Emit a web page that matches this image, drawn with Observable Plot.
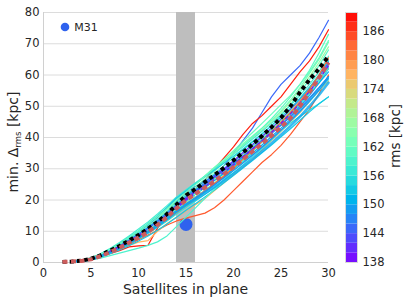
<!DOCTYPE html>
<html><head><meta charset="utf-8">
<script src="https://cdn.jsdelivr.net/npm/d3@7"></script>
<script src="https://cdn.jsdelivr.net/npm/@observablehq/plot@0.6"></script>
<style>
body{margin:0;background:#fff;}
#wrap{position:relative;width:407px;height:303px;font-family:"DejaVu Sans",sans-serif;}
#wrap svg{position:absolute;top:0;}
</style></head><body><div id="wrap"></div>
<script>
// ---- data ----
const satellites = [3,4,5,6,7,8,9,10,11,12,13,14,15,16,17,18,19,20,21,22,23,24,25,26,27,28,29,30];
const satellitesMean = [2,3,4,5,6,7,8,9,10,11,12,13,14,15,16,17,18,19,20,21,22,23,24,25,26,27,28,29,30];
const lineRms = [145,188,184,177,172,167,163,160,157,155,152,149,147,142,139,158,156,151,161,165,153,146,154,150,159,183,162,148];
const lineValues = [
 [0.3,0.6,1.2,2.2,3.5,5,6.8,8.6,10.5,12.8,15.3,18.5,21.5,23.5,25.5,28,31,35,39,43,48,53,57,60,63,67,72,77.5],
 [0.2,0.5,1,1.8,2.8,3.8,5,5.3,5.5,11,14.5,18,21,23.5,26.5,30,33.5,37,41,44.5,47,50,53,57,61,64.5,69,74.5],
 [0.2,0.5,1,1.8,3,4.3,5.8,7.3,8.8,10.3,12,13.3,14.2,15,15.8,17.5,20,23,26,29,32,34.5,37.5,41,45,49,54,60],
 [0.2,0.5,1,2,3.2,4.5,5.5,6.5,7,10,12.5,14.5,16.5,18.5,20.5,23,25.5,28,30.5,33,36,39,42,45,48,51.5,55,58],
 [0.2,0.6,1.2,2.2,3.6,5,6.6,8.3,10,12,14.3,16.8,19,21,23.2,25.5,28,30.5,33,35.8,38.8,42,45.5,49,52.5,56,59.5,63],
 [0.3,0.7,1.4,2.6,4.2,6,8,10,12.2,14.5,17,19.8,22.5,25,27.5,30,32.5,35,37.5,40,42.5,45,48,51.5,55.5,59.5,64,69],
 [0.3,0.7,1.5,2.7,4.3,6.1,8.1,10.2,12.5,15,17.5,20,22.5,25,27.8,30.5,33,35.5,38,40.5,43,45.5,48.5,52,56,60.5,65,70.5],
 [0.3,0.6,1.3,2.4,3.9,5.6,7.4,9.3,11.3,13.6,16,18.8,21.2,23.5,26,28.5,31,33.5,36,38.5,41,43.8,47,50.5,54.5,58.5,63,68],
 [0.3,0.6,1.2,2.2,3.6,5.1,6.8,8.5,10.4,12.5,14.8,17.2,19.5,21.8,24,26.4,28.8,31.2,33.8,36.5,39.2,42,45,48.2,51.5,55,58.5,62.5],
 [0.2,0.5,1.1,2,3.2,4.6,6.2,7.8,9.6,11.5,13.5,15.8,18,20.2,22.5,24.8,27.2,29.6,32,34.5,37,39.6,42.2,44.6,46.8,48.8,50.8,53],
 [0.2,0.6,1.2,2.3,3.7,5.3,7,8.8,10.7,12.8,15.2,17.8,20.2,22.4,24.6,27,29.5,32,34.6,37.3,40,42.8,45.8,49,52.5,56,60,64.5],
 [0.3,0.6,1.2,2.3,3.8,5.5,7.3,9.2,11.3,13.6,16.2,19.5,21.8,23.3,25,27,29.2,31.5,34,36.5,39,41.5,44,46.8,50,53.5,57.5,62],
 [0.3,0.6,1.3,2.5,4,5.8,7.7,9.8,12,14.5,17.5,20.8,22.8,24.3,26,28,30,32.2,34.5,37,39.5,42,44.8,47.8,51,54.8,59,63.5],
 [0.2,0.5,1.1,2.1,3.4,4.8,6.5,8.3,10.3,12.5,15,17.7,20.3,22.6,25,27.5,30,32.6,35.2,37.8,40.4,43,45.8,48.8,52,55.5,59.5,64],
 [0.3,0.6,1.2,2.3,3.7,5.3,7,8.8,10.7,12.8,15.2,17.8,20.5,22.8,25,27.3,29.6,32,34.5,37,39.7,42.5,45.5,48.7,52,55.5,59,63],
 [0.3,0.7,1.5,2.8,4.5,6.4,8.5,10.7,13,15.5,18.2,21,23.3,25.5,27.7,30,32.3,34.6,37,39.5,42,44.6,47.3,50.3,53.5,57,61,66],
 [0.2,0.5,1,1.9,3.1,4.5,6,7.6,9.3,11.2,13.3,15.5,17.6,19.7,21.8,24,26.3,28.7,31.2,33.8,36.5,39.3,42.2,45.2,48.3,51.5,55,58.5],
 [0.2,0.5,1.1,2.1,3.4,5,6.7,8.5,10.5,12.7,15,17.5,19.8,21.9,24,26.2,28.5,30.9,33.4,36,38.7,41.5,44.4,47.4,50.6,54,57.5,61],
 [0.3,0.6,1.3,2.5,4,5.7,7.6,9.6,11.7,14,16.5,19.2,21.8,24.2,26.7,29.3,32,34.7,37.4,40.2,43,46,49.3,53,57,61.5,67,73],
 [0.2,0.5,1.1,2.1,3.5,5.1,6.8,8.6,10.5,12.6,14.9,17.4,19.8,22,24.3,26.7,29.2,31.8,34.4,37,39.7,42.5,45.4,48.5,51.8,55.3,59,63],
 [0.2,0.4,0.9,1.7,2.8,4,5.4,6.9,8.5,10.3,12.3,14.5,16.7,18.8,21,23.2,25.5,27.8,30.2,32.6,35.1,37.6,40.2,42.8,45.5,48.2,50.8,53],
 [0.3,0.6,1.2,2.3,3.7,5.3,7.1,9,11,13.2,15.7,18.5,21,23,25,27.2,29.4,31.7,34,36.4,38.8,41.3,43.9,46.6,49.5,52.7,56,59.5],
 [0.3,0.7,1.4,2.6,4.2,6,8,10.1,12.4,14.9,17.6,20.5,23,25.2,27.4,29.6,31.8,34,36.3,38.7,41.2,43.8,46.5,49.4,52.5,56,60,64.5],
 [0.2,0.5,1.1,2.1,3.4,4.9,6.5,8.2,10,12,14.2,16.6,18.8,20.8,23,25.2,27.5,29.9,32.4,35,37.6,40.3,43,45.9,49,52.3,55.8,59.5],
 [0.2,0.4,0.8,1.4,2.2,3,3.8,4.6,5.5,6.6,8.5,11.5,14.5,17.5,20.5,23.5,26.5,29.5,32.5,35.5,38.5,41.5,44.5,47.5,50.5,54,58,62],
 [0.2,0.5,1.1,2.1,3.4,4.9,6.5,8.1,9.8,11.7,13.8,16,18.2,20.5,22.8,25.2,27.7,30.3,33,35.8,38.7,41.7,44.8,48,51.5,55.5,60,65.5],
 [0.3,0.7,1.4,2.6,4.2,6,8,10.1,12.3,14.7,17.2,19.9,22.5,25,27.6,30.3,33,35.8,38.7,41.6,44.5,47.5,50.5,53.5,57,61,65.5,71],
 [0.2,0.5,1,1.9,3.1,4.5,6.1,7.8,9.6,11.6,13.8,16.2,18.5,20.6,22.7,24.9,27.1,29.4,31.8,34.3,36.9,39.6,42.4,45.3,48.4,51.7,55.2,59]
];
// a dashed violet line and a broad light-blue line drawn on top of the bundle
const violetRms = 139;
const violetValues = [0.3,0.6,1.2,2.2,3.6,5.1,6.8,8.6,10.5,12.6,14.9,17.4,19.9,22.1,24.3,26.6,28.9,31.3,33.8,36.3,38.9,41.6,44.5,47.6,51,54.7,58.6,63];
const broadRms = 150;
const broadValues = [0.2,0.5,1,2,3.3,4.7,6.3,8,9.8,11.8,14,16.4,18.4,20.2,22.1,24.1,26.2,28.4,30.7,33.1,35.6,38.2,40.9,43.7,46.7,50,53.6,57.5];
const meanValues = [0.2,0.3,0.6,1.2,2.3,3.8,5.3,7,8.8,10.8,13,15.5,18.5,21.5,23.5,25.8,28,30.3,32.7,35.2,37.8,40.5,43.3,46.3,50,54.5,58.5,62,66];
const medianValues = [0.2,0.3,0.5,1.0,2.0,3.3,4.7,6.3,8,9.8,12,14.5,17.3,20,22,24,26,28.2,30.5,33,35.5,38,40.6,43.3,46.2,50,54.5,59,64];
const m31 = [{sats: 15, delta: 12.2}];
const planeBand = [{from: 14, to: 16}];
const xTicks = [0,5,10,15,20,25,30];
const yTicks = [0,10,20,30,40,50,60,70,80];
const rmsTicks = [138,144,150,156,162,168,174,180,186];
const rmsSteps = [138,140,142,144,146,148,150,152,154,156,158,160,162,164,166,168,170,172,174,176,178,180,182,184,186,188];

// ---- tables ----
const rows = [];
lineValues.forEach((vals, i) => vals.forEach((v, j) => rows.push({id: i, x: satellites[j], y: v, rms: lineRms[i]})));
const violetRows = violetValues.map((v, j) => ({x: satellites[j], y: v, rms: violetRms}));
const broadRows = broadValues.map((v, j) => ({x: satellites[j], y: v, rms: broadRms}));
const meanRows = meanValues.map((v, j) => ({x: satellitesMean[j], y: v}));
const medianRows = medianValues.map((v, j) => ({x: satellitesMean[j], y: v}));

// matplotlib "rainbow" colormap
const rainbow = t => {
  t = Math.max(0, Math.min(1, t));
  const r = Math.min(1, Math.abs(2 * t - 0.5)), g = Math.sin(Math.PI * t), b = Math.cos(Math.PI * t / 2);
  return d3.rgb(r * 255, g * 255, b * 255).toString();
};
const colorScale = {type: "linear", domain: [138, 190], interpolate: () => rainbow};

const font = '"DejaVu Sans", sans-serif';
const main = Plot.plot({
  width: 407, height: 303,
  marginLeft: 43, marginRight: 79, marginTop: 12, marginBottom: 41,
  style: {fontFamily: font, fontSize: "11.5px", color: "#262626", background: "transparent"},
  x: {domain: [0, 30], label: null},
  y: {domain: [0, 80], label: null},
  color: colorScale,
  marks: [
    Plot.gridY(yTicks, {stroke: "#dcdcdc", strokeOpacity: 1, strokeWidth: 1}),
    Plot.rect(planeBand, {x1: "from", x2: "to", y1: 0, y2: 80, fill: "#bebebe"}),
    Plot.ruleX([0], {stroke: "#d0d0d0"}),
    Plot.ruleY([0], {stroke: "#d0d0d0"}),
    Plot.dot(m31, {x: "sats", y: "delta", r: 6.5, fill: "#2f62ee", stroke: null}),
    Plot.line(rows, {x: "x", y: "y", z: "id", stroke: "rms", strokeWidth: 1.2}),
    Plot.line(broadRows, {x: "x", y: "y", stroke: "rms", strokeWidth: 2.6, strokeOpacity: 0.8}),
    Plot.line(violetRows, {x: "x", y: "y", stroke: "rms", strokeWidth: 1.3, strokeDasharray: "4,2.5", strokeLinecap: "butt"}),
    Plot.line(meanRows, {x: "x", y: "y", stroke: "black", strokeWidth: 4, strokeDasharray: "4,3.2", strokeLinecap: "butt"}),
    Plot.line(medianRows, {x: "x", y: "y", stroke: "#cd5c5c", strokeWidth: 4, strokeDasharray: "5,3.5", strokeLinecap: "butt"}),
    Plot.axisX(xTicks, {tickSize: 0, tickPadding: 6, label: null, fontSize: 11.5}),
    Plot.axisY(yTicks, {tickSize: 0, tickPadding: 4, label: null, fontSize: 11.5})
  ]
});

const bar = Plot.plot({
  width: 62, height: 303,
  marginLeft: 0, marginRight: 50, marginTop: 12, marginBottom: 41,
  style: {fontFamily: font, fontSize: "11.5px", color: "#262626", background: "transparent"},
  x: {domain: [0, 1], axis: null},
  y: {domain: [138, 190], label: null},
  color: colorScale,
  marks: [
    Plot.rect(rmsSteps, {x1: 0, x2: 1, y1: d => d, y2: d => d + 2, fill: d => d + 1}),
    Plot.frame({stroke: "#d8d8d8"}),
    Plot.axisY(rmsTicks, {anchor: "right", tickSize: 0, tickPadding: 5, label: null, fontSize: 11.5})
  ]
});

const wrap = document.getElementById("wrap");
wrap.appendChild(main);
bar.style.left = "345px";
wrap.appendChild(bar);

// extra texts
const svg = d3.select(main);
const yl = svg.append("text")
  .attr("transform", "translate(18,142) rotate(-90)")
  .attr("text-anchor", "middle")
  .attr("fill", "#262626")
  .style("font-family", font).style("font-size", "14px");
yl.append("tspan").text("min. Δ");
yl.append("tspan").attr("dy", 3).style("font-size", "8.5px").text("rms");
yl.append("tspan").attr("dy", -3).text(" [kpc]");

svg.append("text").attr("x", 185.5).attr("y", 294).attr("text-anchor", "middle")
  .attr("fill", "#262626").style("font-family", font).style("font-size", "14px")
  .text("Satellites in plane");

svg.append("circle").attr("cx", 65).attr("cy", 27).attr("r", 4.3).attr("fill", "#2f62ee");
svg.append("text").attr("x", 86).attr("y", 31).attr("fill", "#262626")
  .style("font-family", font).style("font-size", "11px").text("M31");

d3.select(bar).append("text")
  .attr("transform", "translate(55,136) rotate(-90)")
  .attr("text-anchor", "middle").attr("fill", "#262626")
  .style("font-family", font).style("font-size", "13.5px")
  .text("rms [kpc]");
</script>
</body></html>
